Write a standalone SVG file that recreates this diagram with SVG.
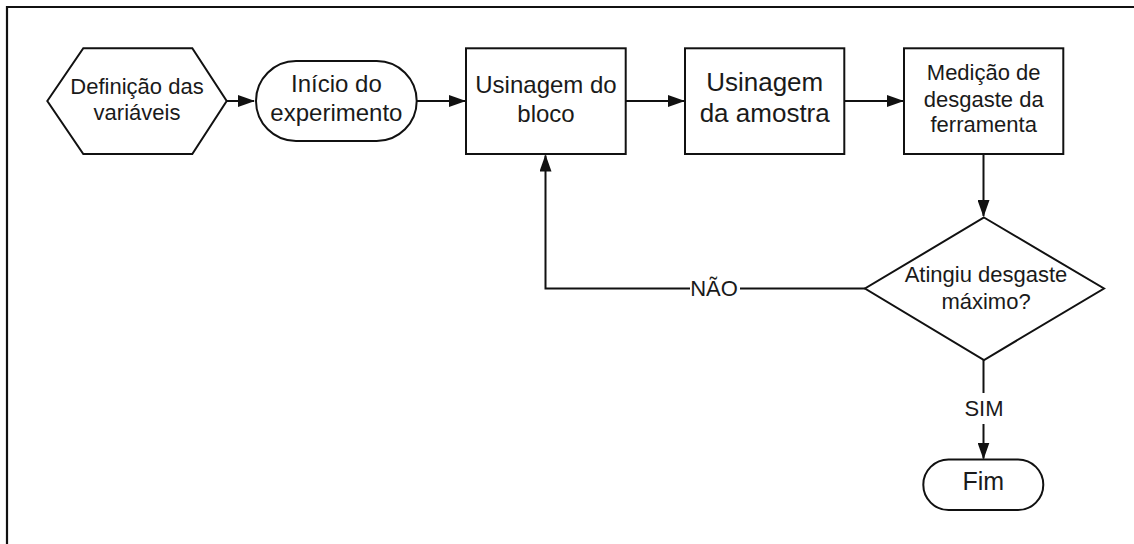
<svg xmlns="http://www.w3.org/2000/svg" width="1134" height="544" viewBox="0 0 1134 544">
<style>
.shape{fill:#fff;stroke:#111;stroke-width:2}
.conn{fill:none;stroke:#111;stroke-width:2}
text{font-family:"Liberation Sans",Arial,sans-serif;fill:#1a1a1a;text-anchor:middle}
.lbl{font-size:22px}
</style>
<defs>
<marker id="ah" markerUnits="userSpaceOnUse" markerWidth="17" markerHeight="12" refX="16" refY="6" orient="auto">
<path d="M0,0 L17,6 L0,12 z" fill="#111"/>
</marker>
</defs>
<rect width="1134" height="544" fill="#fff"/>
<path d="M7,545 V7 H1135" fill="none" stroke="#111" stroke-width="2.2"/>
<g id="connectors">
<path class="conn" d="M226.7,101 H254" marker-end="url(#ah)"/>
<path class="conn" d="M416.7,101 H465" marker-end="url(#ah)"/>
<path class="conn" d="M626,101 H684" marker-end="url(#ah)"/>
<path class="conn" d="M844,101 H903" marker-end="url(#ah)"/>
<path class="conn" d="M983.5,154 V216" marker-end="url(#ah)"/>
<path class="conn" d="M865,288.5 H545.5 V155.5" marker-end="url(#ah)"/>
<path class="conn" d="M983.5,360 V458.5" marker-end="url(#ah)"/>
<rect x="690" y="276" width="50" height="24" fill="#fff"/>
<text class="lbl" x="714" y="296">NÃO</text>
<rect x="962" y="393" width="44" height="31" fill="#fff"/>
<text class="lbl" x="984" y="415.5">SIM</text>
</g>
<g id="n-definicao">
<polygon class="shape" points="47.3,101 83.3,48.3 192.3,48.3 226.7,101 192.3,154 83.3,154"/>
<text x="137" y="93.5" font-size="22">Definição das</text>
<text x="137" y="119.5" font-size="22">variáveis</text>
</g>
<g id="n-inicio">
<rect class="shape" x="256" y="61" width="160.7" height="80" rx="40" ry="40"/>
<text x="336.4" y="92" font-size="24">Início do</text>
<text x="336.4" y="121" font-size="24">experimento</text>
</g>
<g id="n-bloco">
<rect class="shape" x="466" y="48.3" width="159.7" height="105.7"/>
<text x="546" y="93" font-size="24">Usinagem do</text>
<text x="546" y="122" font-size="24">bloco</text>
</g>
<g id="n-amostra">
<rect class="shape" x="685" y="48.3" width="159.3" height="105.7"/>
<text x="764.7" y="91" font-size="26">Usinagem</text>
<text x="764.7" y="121.7" font-size="26">da amostra</text>
</g>
<g id="n-medicao">
<rect class="shape" x="904" y="48.3" width="159.3" height="105.7"/>
<text x="983.7" y="80" font-size="22">Medição de</text>
<text x="983.7" y="106.5" font-size="22">desgaste da</text>
<text x="983.7" y="132" font-size="22">ferramenta</text>
</g>
<g id="n-decisao">
<polygon class="shape" points="984,217.5 1104,288.5 984,360 865,288.5"/>
<text x="986" y="281.5" font-size="22">Atingiu desgaste</text>
<text x="986" y="308.5" font-size="22">máximo?</text>
</g>
<g id="n-fim">
<rect class="shape" x="923.3" y="459.5" width="120" height="50.5" rx="25.25" ry="25.25"/>
<text x="983.3" y="490" font-size="25">Fim</text>
</g>
</svg>
